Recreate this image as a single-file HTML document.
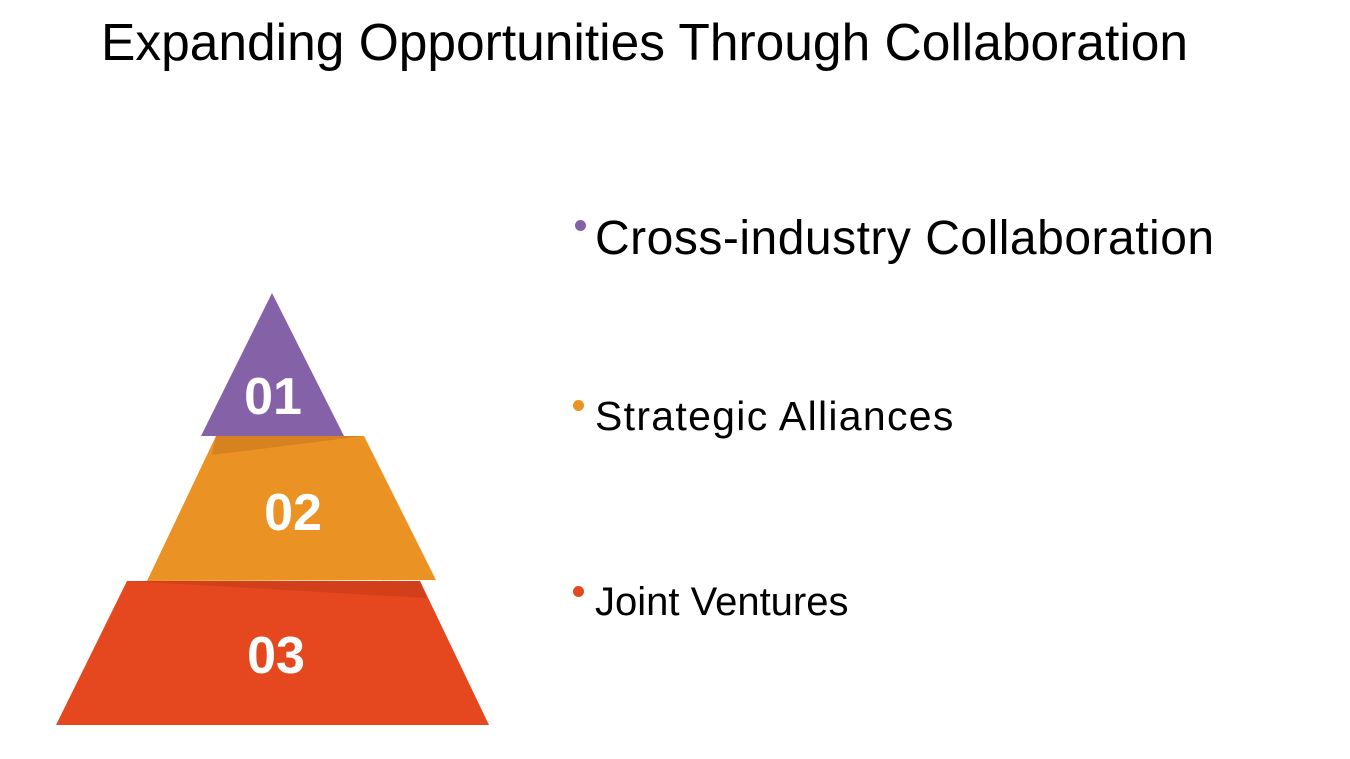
<!DOCTYPE html>
<html><head><style>
body{margin:0;width:1350px;height:759px;background:#fff;overflow:hidden;position:relative;font-family:"Liberation Sans",sans-serif}
.t{position:absolute;white-space:nowrap;color:#000}
.b{position:absolute;width:11px;height:11px;border-radius:50%}
</style></head><body>
<div class="t" style="left:101px;top:12px;font-size:51.5px;">Expanding Opportunities Through Collaboration</div>
<svg width="1350" height="759" style="position:absolute;left:0;top:0">
<polygon points="127,581 420,581 489,725 56,725" fill="#e5481e"/>
<polygon points="127,581 420,581 427,598" fill="#c93c1a" opacity="0.7"/>
<polygon points="216,436 364,436 436,580 147,581" fill="#eb9225"/>
<polygon points="216,436 364,436 212,455" fill="#d27e20" opacity="0.8"/>
<polygon points="272,293 344,436 201,436" fill="#8561a8"/>
<g font-family="'Liberation Sans',sans-serif" font-weight="bold" font-size="52" fill="#fff" text-anchor="middle">
<text x="273" y="414">01</text>
<text x="293" y="530">02</text>
<text x="276" y="673">03</text>
</g>
</svg>
<div class="b" style="left:575px;top:220px;background:#8561a8"></div>
<div class="t" style="left:595px;top:211px;font-size:48px;letter-spacing:0.5px">Cross-industry Collaboration</div>
<div class="b" style="left:573px;top:400px;background:#eb9225"></div>
<div class="t" style="left:595px;top:393px;font-size:41px;letter-spacing:1.3px">Strategic Alliances</div>
<div class="b" style="left:573px;top:586px;background:#e5481e"></div>
<div class="t" style="left:595px;top:580px;font-size:40px;">Joint Ventures</div>
</body></html>
